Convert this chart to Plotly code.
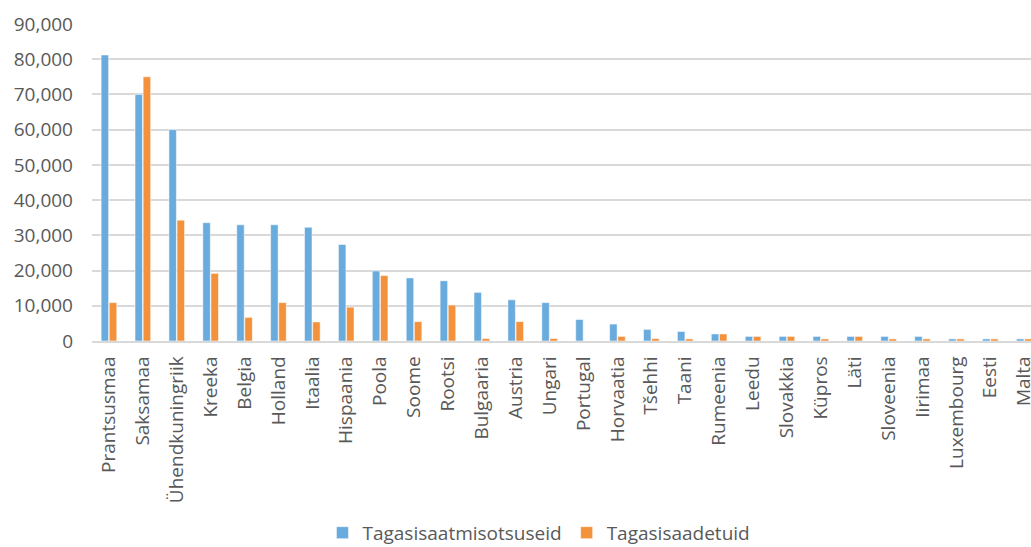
import plotly.graph_objects as go

categories = ["Prantsusmaa", "Saksamaa", "Ühendkuningriik", "Kreeka", "Belgia", "Holland",
              "Itaalia", "Hispaania", "Poola", "Soome", "Rootsi", "Bulgaaria", "Austria",
              "Ungari", "Portugal", "Horvaatia", "Tšehhi", "Taani", "Rumeenia", "Leedu",
              "Slovakkia", "Küpros", "Läti", "Sloveenia", "Iirimaa", "Luxembourg", "Eesti", "Malta"]

tagasisaatmisotsuseid = [81200, 70000, 60000, 33600, 33000, 33000, 32300, 27400, 19900, 17900,
                         17100, 13800, 11700, 10900, 6100, 4800, 3300, 2700, 2000, 1300,
                         1300, 1300, 1300, 1300, 1300, 600, 600, 600]
tagasisaadetuid = [10900, 75000, 34300, 19200, 6700, 10900, 5400, 9600, 18600, 5500,
                   10200, 700, 5500, 700, 0, 1300, 700, 600, 2000, 1300,
                   1300, 600, 1300, 600, 600, 600, 600, 600]

y_ticks = [0, 10000, 20000, 30000, 40000, 50000, 60000, 70000, 80000, 90000]
y_ticktext = ["0", "10,000", "20,000", "30,000", "40,000", "50,000", "60,000", "70,000", "80,000", "90,000"]

blue = "#6AABDE"
orange = "#F3913D"

fig = go.Figure()
fig.add_trace(go.Bar(x=categories, y=tagasisaatmisotsuseid, name="Tagasisaatmisotsuseid",
                     marker=dict(color=blue, line=dict(color="rgba(255,255,255,0.5)", width=1))))
fig.add_trace(go.Bar(x=categories, y=tagasisaadetuid, name="Tagasisaadetuid",
                     marker=dict(color=orange, line=dict(color="rgba(255,255,255,0.5)", width=1))))

font = dict(family="Open Sans", size=19, color="#595959")

fig.update_layout(
    width=1031, height=547,
    margin=dict(l=92, r=0, t=24, b=206, autoexpand=False),
    paper_bgcolor="white", plot_bgcolor="white",
    barmode="group", bargap=0.52, bargroupgap=0.08,
    font=font,
    showlegend=True,
    legend=dict(orientation="h", x=0.476, xanchor="center", y=-0.605, yanchor="middle",
                font=font, itemwidth=30, traceorder="normal"),
    xaxis=dict(range=[-0.5, 27.2], tickangle=-90, showline=True, linecolor="#D9D9D9",
               linewidth=1.5, ticks="", showgrid=False, tickfont=font, ticklabelstandoff=6,
               automargin=False),
    yaxis=dict(range=[0, 90000], tickvals=y_ticks, ticktext=y_ticktext, showgrid=True,
               gridcolor="#D9D9D9", gridwidth=1.5, zeroline=False, showline=False, ticks="",
               tickfont=font, ticklabelstandoff=18, automargin=False),
)

fig.write_html("out.html")
